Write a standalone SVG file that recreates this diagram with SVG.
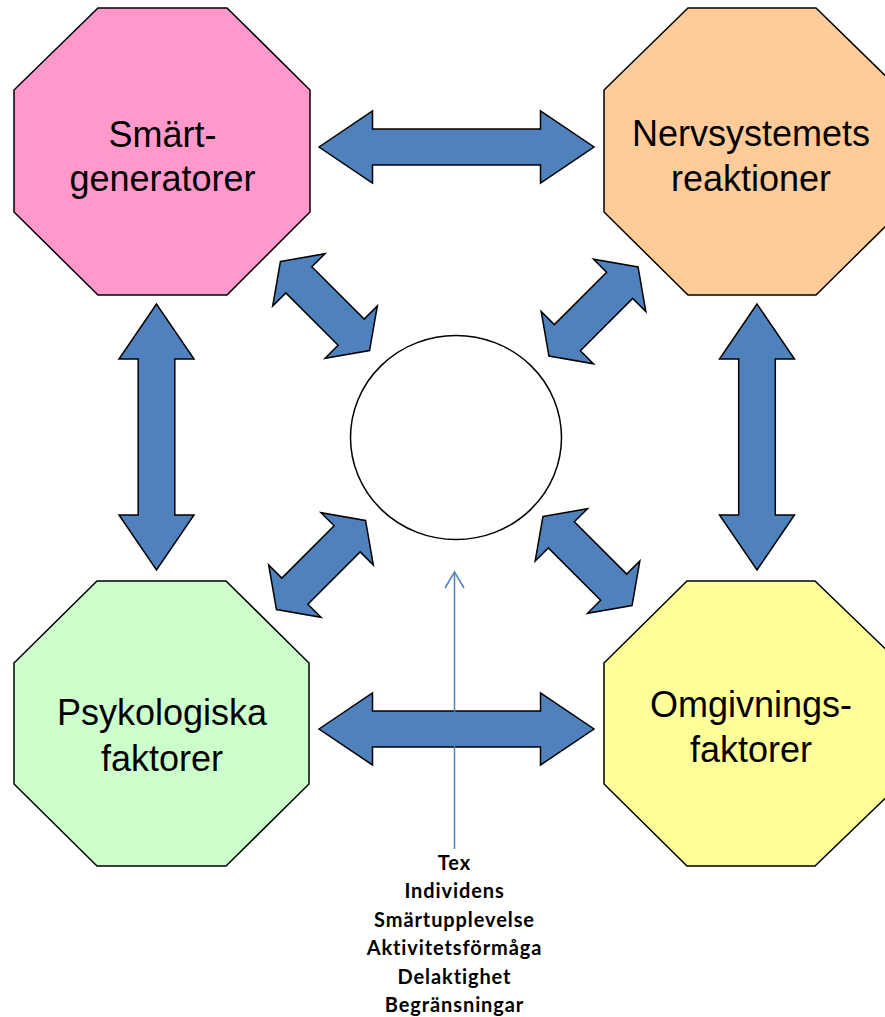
<svg xmlns="http://www.w3.org/2000/svg" width="885" height="1017" viewBox="0 0 885 1017">
<style>
.oct{stroke:#000;stroke-width:1.5;stroke-linejoin:miter}
.big{font-family:"Liberation Sans",Arial,sans-serif;font-size:36px;fill:#000;text-anchor:middle}
.arr{fill:#4F81BD;stroke:#000;stroke-width:1.5;stroke-linejoin:miter}
.note{font-family:Lato,"Liberation Sans",sans-serif;font-weight:700;font-size:20px;letter-spacing:0.9px;fill:#000;text-anchor:middle}
</style>
<defs>
<polygon id="dblH" points="-137.5,0 -84,-36 -84,-18 84,-18 84,-36 137.5,0 84,36 84,18 -84,18 -84,36"/>
<polygon id="dblV" points="0,-133 -37.5,-78 -18.3,-78 -18.3,78 -37.5,78 0,133 37.5,78 18.3,78 18.3,-78 37.5,-78"/>
<polygon id="dblD" points="-63,0 -37,-37 -37,-18.4 37,-18.4 37,-37 63,0 37,37 37,18.4 -37,18.4 -37,37"/>
</defs>
<rect width="885" height="1017" fill="#fff"/>
<g id="connectors">
<use href="#dblH" class="arr" transform="translate(456.5,147)"/>
<use href="#dblH" class="arr" transform="translate(456.5,729)"/>
<use href="#dblV" class="arr" transform="translate(156.5,437)"/>
<use href="#dblV" class="arr" transform="translate(757,437)"/>
<use href="#dblD" class="arr" transform="translate(325,306) rotate(45)"/>
<use href="#dblD" class="arr" transform="translate(593.5,311.5) rotate(-45)"/>
<use href="#dblD" class="arr" transform="translate(321,565) rotate(-45)"/>
<use href="#dblD" class="arr" transform="translate(587.5,561) rotate(45)"/>
<g fill="none" stroke="#4F81BD" stroke-width="1.5">
<line x1="454.5" y1="849" x2="454.5" y2="573"/>
<polyline points="445,588 454.5,572 464,588"/>
</g>
</g>
<g id="smart">
<polygon class="oct" fill="#FF99CC" points="98,8 227,8 310,90 310,212 227,295 98,295 14,212 14,90"/>
<text class="big" x="162.5" y="146.5">Smärt-</text>
<text class="big" x="162.5" y="190.5">generatorer</text>
</g>
<g id="nerv">
<polygon class="oct" fill="#FFCC99" points="688,8 816,8 900,90 900,212 816,295 688,295 604,212 604,90"/>
<text class="big" x="751" y="146">Nervsystemets</text>
<text class="big" x="751" y="190.5">reaktioner</text>
</g>
<g id="psyk">
<polygon class="oct" fill="#CCFFCC" points="97,581 226,581 309,663 309,784 226,866 97,866 14,784 14,663"/>
<text class="big" x="162" y="725">Psykologiska</text>
<text class="big" x="162" y="770.5">faktorer</text>
</g>
<g id="omg">
<polygon class="oct" fill="#FFFF99" points="687,581 815,581 900,663 900,784 815,866 687,866 604,784 604,663"/>
<text class="big" x="751" y="716.5">Omgivnings-</text>
<text class="big" x="751" y="761.5">faktorer</text>
</g>
<g id="center">
<ellipse cx="456" cy="437.5" rx="105.5" ry="102" fill="#fff" stroke="#000" stroke-width="1.5"/>
</g>
<g id="note">
<text class="note" x="454.5" y="869.5">Tex</text>
<text class="note" x="454.5" y="898">Individens</text>
<text class="note" x="454.5" y="926.5">Smärtupplevelse</text>
<text class="note" x="454.5" y="955">Aktivitetsförmåga</text>
<text class="note" x="454.5" y="983.5">Delaktighet</text>
<text class="note" x="454.5" y="1012">Begränsningar</text>
</g>
</svg>
